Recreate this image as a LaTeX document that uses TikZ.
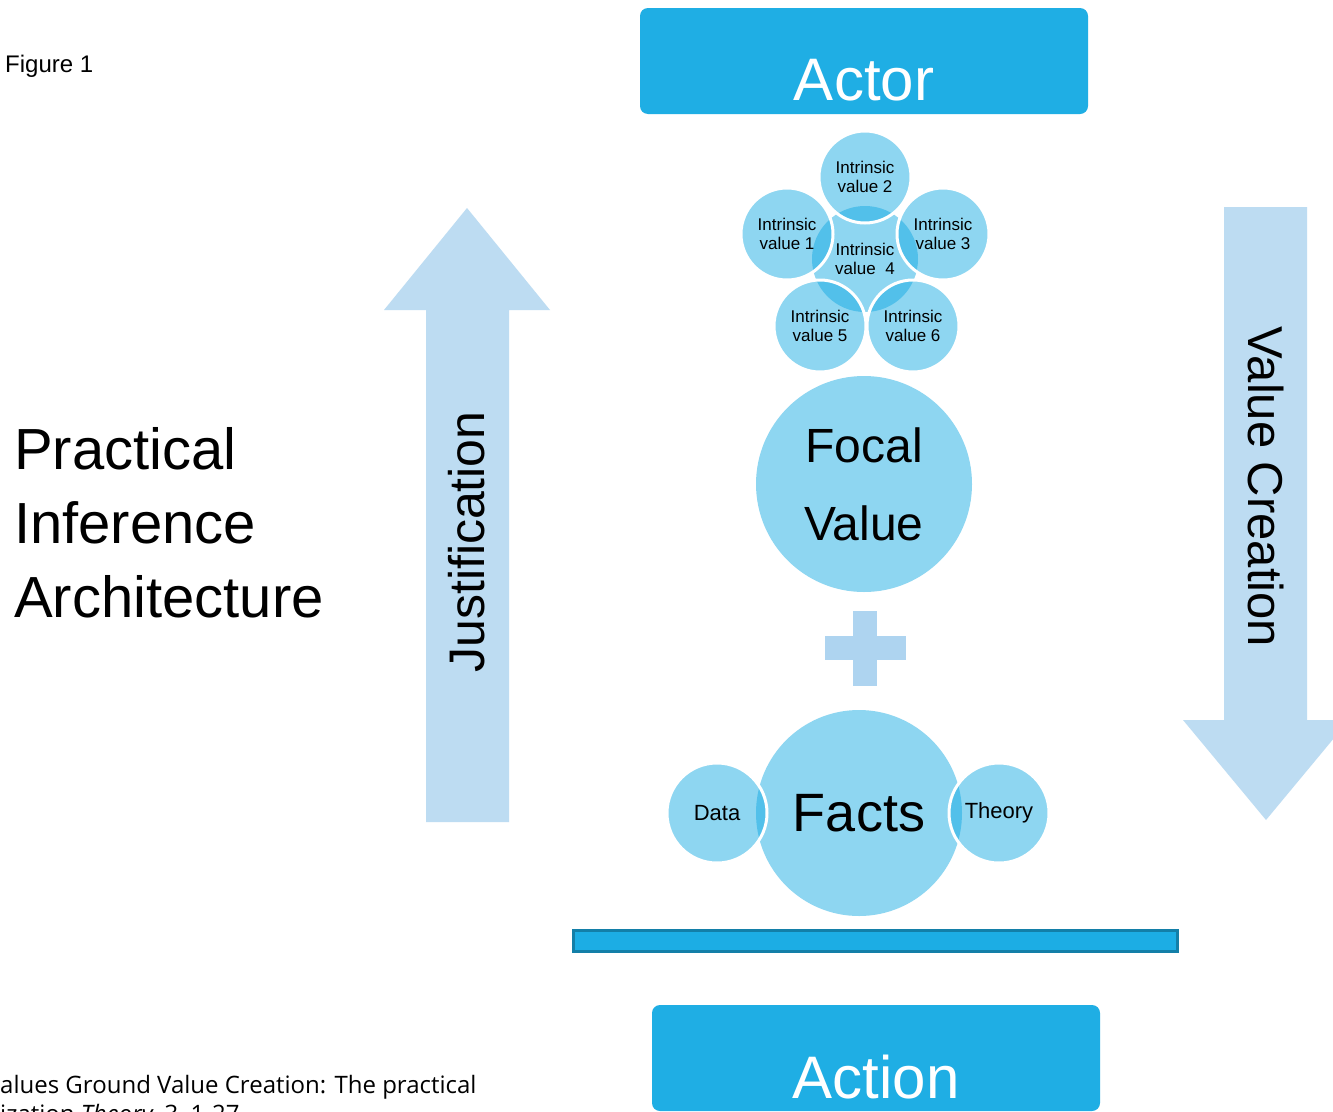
\documentclass[tikz,border=0pt]{standalone}
\usepackage{fontspec}
\setmainfont{Liberation Sans}
\newfontfamily\citefont{Open Sans}
\usetikzlibrary{backgrounds}

\definecolor{boxblue}{HTML}{1FAEE4}
\definecolor{barblue}{HTML}{1CADE4}
\definecolor{barline}{HTML}{137FA8}
\definecolor{arrowblue}{HTML}{BDDCF2}
\definecolor{plusblue}{HTML}{AED4F0}
\definecolor{bubblefill}{HTML}{8ED6F1}
\definecolor{lensfill}{HTML}{52C0EA}

\begin{document}
\begin{tikzpicture}[x=1pt, y=-1pt,
    box/.style={rectangle, rounded corners=8pt, fill=boxblue,
        minimum width=448pt, minimum height=106pt},
    boxlabel/.style={text=white, font=\fontsize{60}{60}\selectfont},
    bubble/.style={circle, inner sep=0pt, align=center, text=black},
    smallbubble/.style={bubble, minimum size=92pt,
        font=\fontsize{17}{19}\selectfont},
    ring/.style={draw=white, line width=3pt},
    bigarrow/.style={fill=arrowblue},
    arrowlabel/.style={font=\fontsize{50}{50}\selectfont}
]
    \useasboundingbox (0,0) rectangle (1333,1111);

    % caption, title and source
    \node[anchor=base west, inner sep=0pt, font=\fontsize{24}{24}\selectfont] (fig) at (5,72) {Figure 1};
    \node[anchor=west, inner sep=0pt, align=left, font=\fontsize{58}{74}\selectfont] (title) at (14,523)
        {Practical\\Inference\\Architecture};
    \node[anchor=base west, inner sep=0pt, align=left, font=\citefont\fontsize{24}{29}\selectfont] (source) at (0,1122)
        {alues Ground Value Creation: The practical\\ization \textit{Theory}, 3, 1-27};

    % actor and action
    \node[box] (actor) at (864,61) {};
    \node[boxlabel, anchor=base] (actortext) at (864,100) {Actor};
    \node[box] (action) at (876,1058) {};
    \node[boxlabel, anchor=base] (actiontext) at (876,1098) {Action};

    % ground bar
    \node[rectangle, fill=barblue, draw=barline, line width=3pt, inner sep=0pt,
        minimum width=604pt, minimum height=21pt] (bar) at (875.5,941) {};

    % justification arrow (up) and value creation arrow (down)
    \fill[bigarrow] (426,822) -- (426,310) -- (384,310) -- (467,208)
        -- (550,310) -- (509,310) -- (509,822) -- cycle;
    \node[arrowlabel, rotate=90] (justification) at (467,542) {Justification};
    \fill[bigarrow] (1224,207) -- (1307,207) -- (1307,720) -- (1349,720)
        -- (1266,820) -- (1183,720) -- (1224,720) -- cycle;
    \node[arrowlabel, font=\fontsize{49}{49}\selectfont, rotate=-90] (creation) at (1266,487) {Value Creation};

    % plus sign
    \fill[plusblue] (853,611) rectangle (877,686);
    \fill[plusblue] (825,636) rectangle (906,660);

    % focal value
    \node[bubble, fill=bubblefill, minimum size=216pt,
        font=\fontsize{48}{78}\selectfont] (focal) at (864,484) {Focal\\Value};

    % facts, data, theory
    \node[bubble, minimum size=206pt, font=\fontsize{54}{54}\selectfont] (facts) at (859,813) {Facts};
    \node[bubble, minimum size=100pt, font=\fontsize{22}{22}\selectfont] (data) at (717,813) {Data};
    \node[bubble, minimum size=100pt, font=\fontsize{22}{22}\selectfont] (theory) at (999,813) {Theory};

    % intrinsic values
    \node[smallbubble] (iv1) at (787,234) {Intrinsic\\value 1};
    \node[smallbubble] (iv2) at (865,177) {Intrinsic\\value 2};
    \node[smallbubble] (iv3) at (943,234) {Intrinsic\\value 3};
    \node[smallbubble, minimum size=106pt] (iv4) at (865,259) {Intrinsic\\value\ \ 4};
    \node[smallbubble] (iv5) at (820,326) {Intrinsic\\value 5};
    \node[smallbubble] (iv6) at (913,326) {Intrinsic\\value 6};

    \begin{pgfonlayer}{background}
        \fill[white] (0,0) rectangle (1333,1111);
        % fills
        \fill[bubblefill] (facts.center) circle (103);
        \fill[bubblefill] (data.center) circle (50);
        \fill[bubblefill] (theory.center) circle (50);
        \fill[bubblefill] (iv4.center) circle (53);
        \foreach \n in {iv1,iv2,iv3,iv5,iv6}
            \fill[bubblefill] (\n.center) circle (46);
        % overlaps
        \begin{scope}
            \clip (facts.center) circle (103);
            \fill[lensfill] (data.center) circle (50);
            \fill[lensfill] (theory.center) circle (50);
        \end{scope}
        \begin{scope}
            \clip (iv4.center) circle (53);
            \foreach \n in {iv1,iv2,iv3,iv5,iv6}
                \fill[lensfill] (\n.center) circle (46);
        \end{scope}
        % white rims
        \draw[ring] (data.center) circle (50);
        \draw[ring] (theory.center) circle (50);
        \foreach \n in {iv1,iv2,iv3,iv5,iv6}
            \draw[ring] (\n.center) circle (46);
    \end{pgfonlayer}
\end{tikzpicture}
\end{document}
